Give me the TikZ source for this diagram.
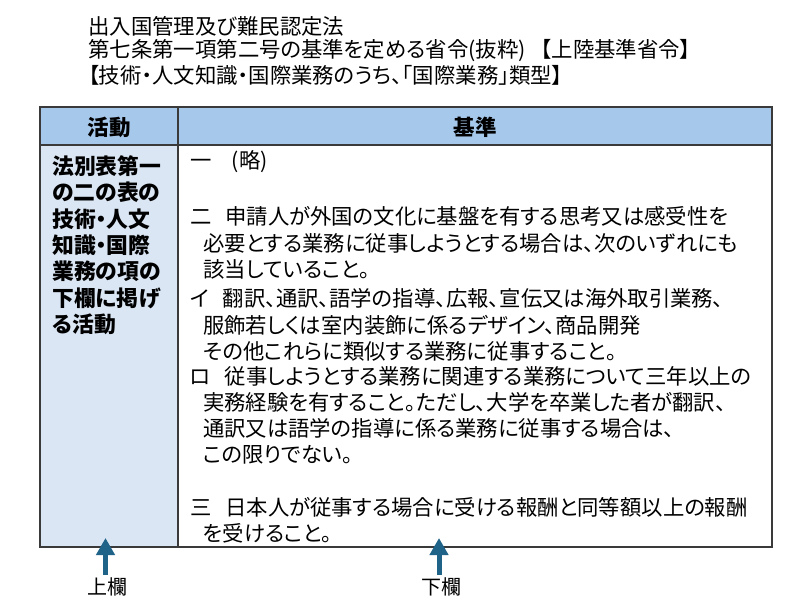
\documentclass[tikz,border=0pt]{standalone}
\usepackage{fontspec}
\setmainfont{Noto Sans CJK JP}[RawFeature={+palt}]
\usetikzlibrary{arrows.meta}
\definecolor{headblue}{HTML}{A6C8EB}
\definecolor{colblue}{HTML}{DAE6F4}
\definecolor{gridgray}{HTML}{3A3A3A}
\definecolor{arrowblue}{HTML}{1F6388}
\tikzset{
  ttl/.style={anchor=west, inner sep=0pt, font=\fontsize{21.4}{24}\selectfont},
  body/.style={anchor=west, inner sep=0pt, font=\fontsize{21.35}{24}\selectfont},
  leftcol/.style={anchor=west, inner sep=0pt, font=\fontsize{21.8}{24}\selectfont\bfseries},
  headtxt/.style={inner sep=0pt, font=\fontsize{21.5}{24}\selectfont\bfseries},
  lbl/.style={inner sep=0pt, font=\fontsize{20}{22}\selectfont},
  uparrow/.style={arrowblue, line width=5pt, -{Triangle[width=18pt,length=17pt]}},
}
\begin{document}
\begin{tikzpicture}[x=1pt,y=-1pt]
\useasboundingbox (0,0) rectangle (800,600);
% fills
\fill[headblue] (40,107) rectangle (772,145);
\fill[colblue] (40,145) rectangle (178,547);
% grid
\draw[gridgray, line width=1.4pt] (40,107) rectangle (772,547);
\draw[gridgray, line width=1.4pt] (40,145) -- (772,145);
\draw[gridgray, line width=1.4pt] (178,107) -- (178,547);
% titles
\node[ttl] (t1) at (88,26) {出入国管理及び難民認定法};
\node[ttl] (t2) at (88,51) {第七条第一項第二号の基準を定める省令(抜粋)\hspace{0.7em}【上陸基準省令】};
\node[ttl] (t3) at (88,75) {【技術・人文知識・国際業務のうち、「国際業務」類型】};
% header
\node[headtxt] (h1) at (109,127) {活動};
\node[headtxt] (h2) at (475,127) {基準};
% left column
\node[leftcol] (l1) at (52,166) {法別表第一};
\node[leftcol] (l2) at (52,192.4) {の二の表の};
\node[leftcol] (l3) at (52,218.8) {技術・人文};
\node[leftcol] (l4) at (52,245.2) {知識・国際};
\node[leftcol] (l5) at (52,271.6) {業務の項の};
\node[leftcol] (l6) at (52,298) {下欄に掲げ};
\node[leftcol] (l7) at (52,324.4) {る活動};
% right column
\node[body] (r1) at (190,162) {一\hspace{0.95em}(略)};
\node[body] (r2) at (190,216) {二\hspace{0.65em}申請人が外国の文化に基盤を有する思考又は感受性を};
\node[body] (r3) at (203,243) {必要とする業務に従事しようとする場合は、次のいずれにも};
\node[body] (r4) at (203,269) {該当していること。};
\node[body] (r5) at (190,298) {イ\hspace{0.65em}翻訳、通訳、語学の指導、広報、宣伝又は海外取引業務、};
\node[body] (r6) at (203,325) {服飾若しくは室内装飾に係るデザイン、商品開発};
\node[body] (r7) at (203,351) {その他これらに類似する業務に従事すること。};
\node[body] (r8) at (190,376) {ロ\hspace{0.65em}従事しようとする業務に関連する業務について三年以上の};
\node[body] (r9) at (203,402) {実務経験を有すること。ただし、大学を卒業した者が翻訳、};
\node[body] (r10) at (203,428) {通訳又は語学の指導に係る業務に従事する場合は、};
\node[body] (r11) at (203,455) {この限りでない。};
\node[body] (r12) at (190,507) {三\hspace{0.65em}日本人が従事する場合に受ける報酬と同等額以上の報酬};
\node[body] (r13) at (203,533) {を受けること。};
% labels and arrows
\node[lbl] (u) at (107,587) {上欄};
\node[lbl] (d) at (441,587) {下欄};
\coordinate (utip) at (105.5,538);
\coordinate (ubase) at (105.5,575);
\coordinate (dtip) at (439,538);
\coordinate (dbase) at (439,575);
\draw[uparrow] (ubase) -- (utip);
\draw[uparrow] (dbase) -- (dtip);
\end{tikzpicture}
\end{document}
